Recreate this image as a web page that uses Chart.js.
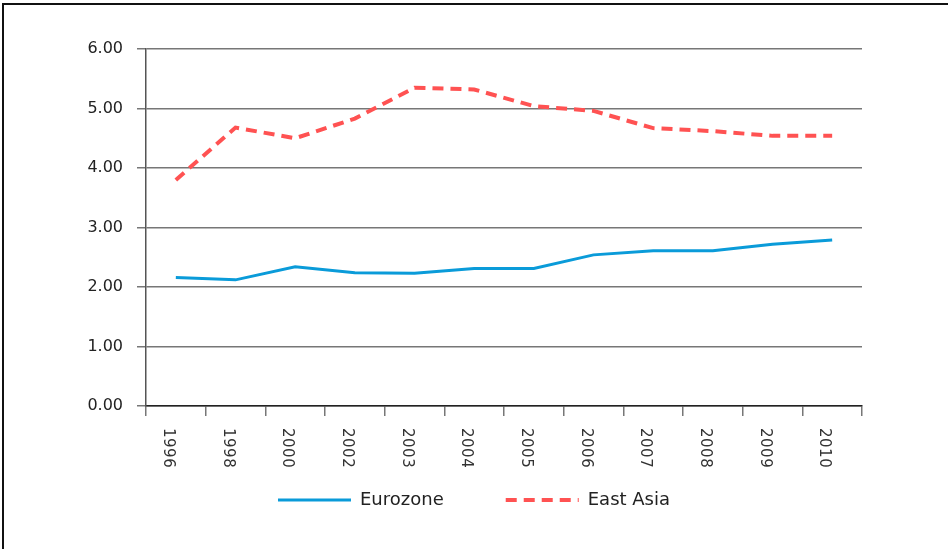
<!DOCTYPE html>
<html>
<head>
<meta charset="utf-8">
<script src="https://cdn.jsdelivr.net/npm/chart.js@4.4.1/dist/chart.umd.min.js"></script>
<style>
  html, body { margin: 0; padding: 0; background: #fff; }
  #wrap { position: relative; width: 948px; height: 549px; overflow: hidden; }
  #frame { position: absolute; left: 2px; top: 3px; width: 960px; height: 560px;
           border-left: 2px solid #111; border-top: 2px solid #111; pointer-events: none; }
</style>
</head>
<body>
<div id="wrap">
  <canvas id="lineChart" width="948" height="549"></canvas>
  <div id="frame"></div>
</div>
<script>
// years on the x axis
var years = ["1996", "1998", "2000", "2002", "2003", "2004", "2005", "2006", "2007", "2008", "2009", "2010"];
// series values
var eurozone = [2.16, 2.12, 2.34, 2.24, 2.23, 2.31, 2.31, 2.54, 2.61, 2.61, 2.72, 2.79];
var eastAsia = [3.80, 4.68, 4.50, 4.83, 5.35, 5.32, 5.04, 4.96, 4.67, 4.62, 4.54, 4.54];

// x labels read top to bottom, so draw them turned clockwise
var rotatedLabels = {
  id: "rotatedLabels",
  afterDraw: function (chart) {
    var xs = chart.scales.x;
    var ctx = chart.ctx;
    ctx.save();
    ctx.font = "15px 'DejaVu Sans'";
    ctx.fillStyle = "#333";
    ctx.textAlign = "left";
    ctx.textBaseline = "middle";
    if ("letterSpacing" in ctx) ctx.letterSpacing = "0.5px";
    chart.data.labels.forEach(function (lab, i) {
      ctx.save();
      ctx.translate(xs.getPixelForTick(i) - 8, xs.top + 22);
      ctx.rotate(Math.PI / 2);
      ctx.fillText(lab, 0, 0);
      ctx.restore();
    });
    ctx.restore();
  },
};

var ctx = document.getElementById("lineChart").getContext("2d");
var lineChart = new Chart(ctx, {
  type: "line",
  data: {
    labels: years,
    datasets: [
      {
        label: "Eurozone",
        data: eurozone,
        borderColor: "#0a9bd9",
        backgroundColor: "#0a9bd9",
        borderWidth: 3,
        pointRadius: 0,
        tension: 0,
      },
      {
        label: "East Asia",
        data: eastAsia,
        borderColor: "#ff5252",
        backgroundColor: "#ff5252",
        borderWidth: 4,
        borderDash: [11, 7],
        pointRadius: 0,
        tension: 0,
      },
    ],
  },
  options: {
    responsive: false,
    animation: false,
    layout: {
      padding: { top: 49, left: 86, right: 86, bottom: 30 },
    },
    scales: {
      x: {
        offset: true,
        grid: {
          offset: true,
          drawOnChartArea: false,
          drawTicks: true,
          tickLength: 10,
          color: "#777",
          lineWidth: 1.5,
        },
        border: { display: true, color: "#222", width: 1.5 },
        ticks: { display: false },
        afterFit: function (scale) {
          scale.height = 23;
        },
      },
      y: {
        min: 0,
        max: 6,
        ticks: {
          stepSize: 1,
          padding: 14,
          color: "#222",
          font: { family: "'DejaVu Sans'", size: 16 },
          callback: function (v) {
            return v.toFixed(2);
          },
        },
        grid: { color: "#777", lineWidth: 1.5, tickLength: 9 },
        border: { color: "#555", width: 1.5 },
        afterFit: function (scale) {
          scale.width = 60;
        },
      },
    },
    plugins: {
      legend: {
        position: "bottom",
        labels: {
          usePointStyle: true,
          pointStyle: "line",
          pointStyleWidth: 73,
          padding: 62,
          color: "#222",
          font: { family: "'DejaVu Sans'", size: 18 },
          generateLabels: function (chart) {
            var items = Chart.defaults.plugins.legend.labels.generateLabels(chart);
            items.forEach(function (it, i) {
              var ds = chart.data.datasets[i];
              it.lineDash = ds.borderDash || [];
              it.lineWidth = ds.borderWidth;
              it.strokeStyle = ds.borderColor;
            });
            return items;
          },
        },
      },
      tooltip: { enabled: false },
    },
  },
  plugins: [rotatedLabels],
});
</script>
</body>
</html>
